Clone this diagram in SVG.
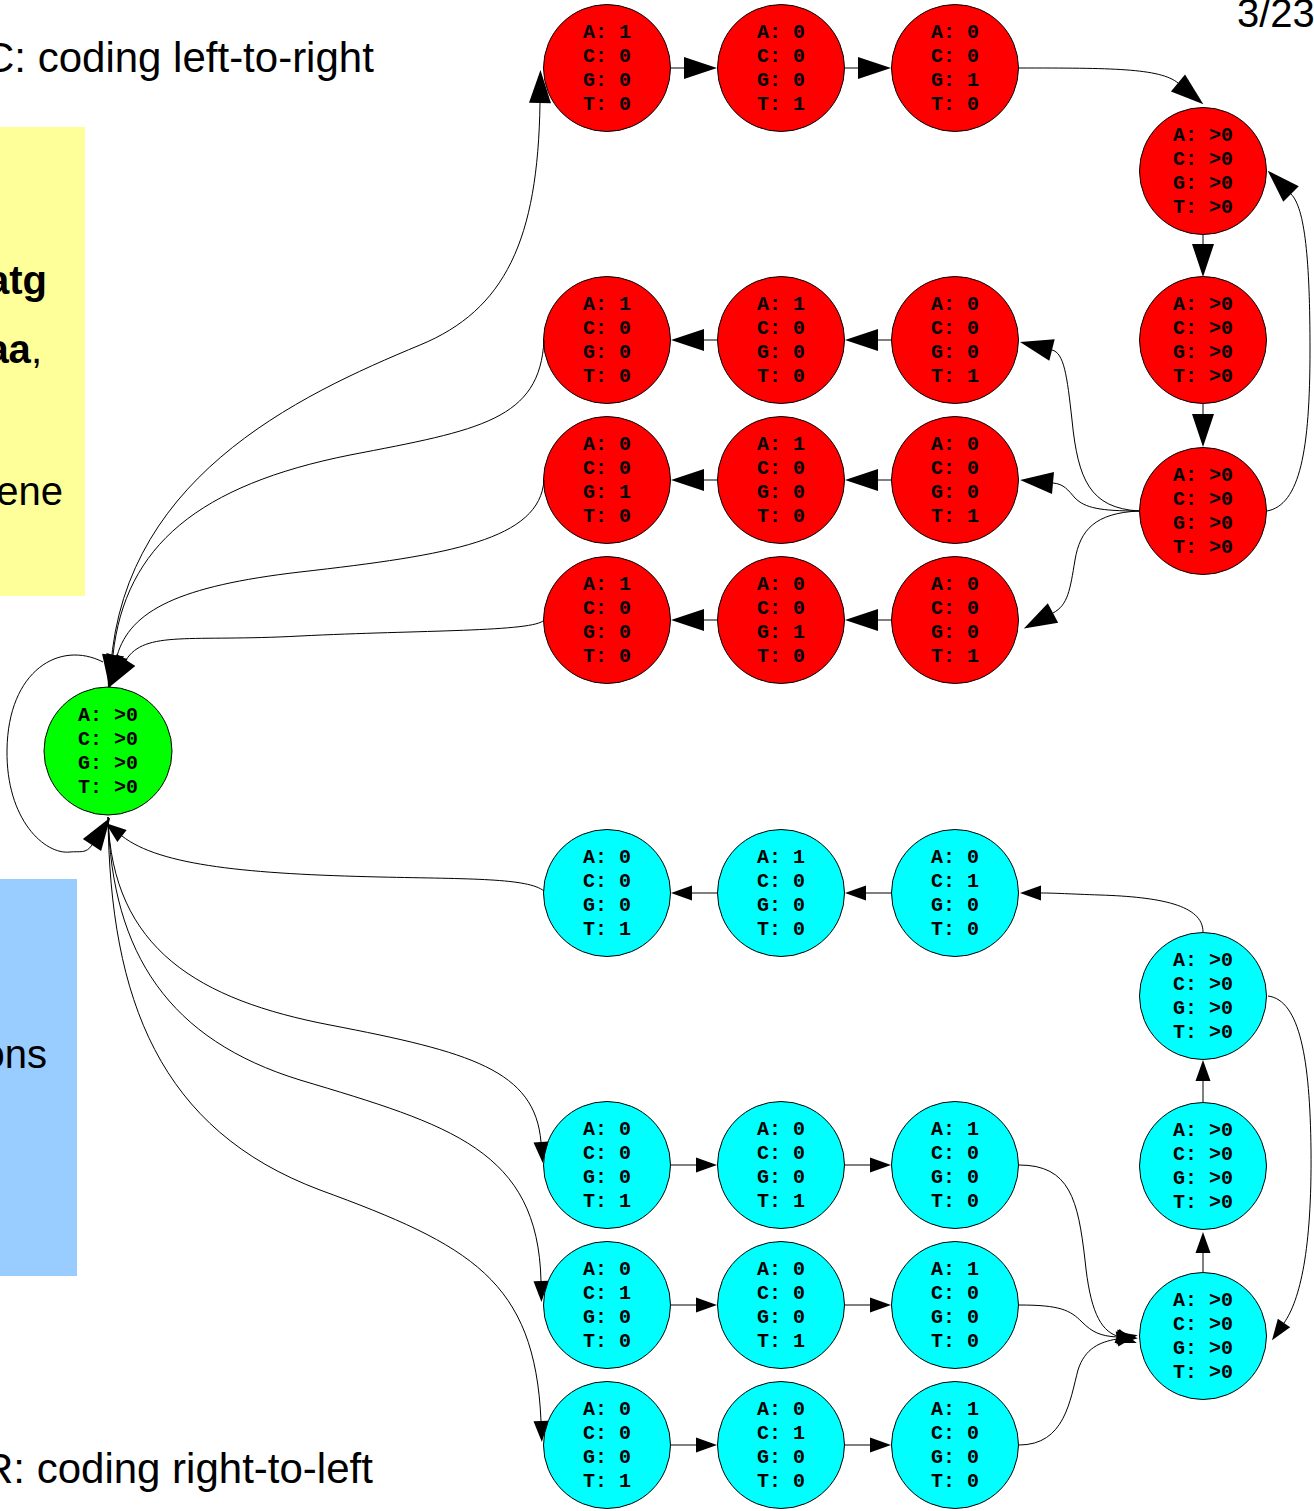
<svg xmlns="http://www.w3.org/2000/svg" width="1314" height="1511" viewBox="0 0 1314 1511">
  <style>
    .slide { font-family: "Liberation Sans", Arial, sans-serif; font-size: 40px; fill: #000; }
    .head { font-size: 42px; }
    .b { font-weight: bold; }
    .node circle { stroke: #000; stroke-width: 1; }
    .fwd circle { fill: #ff0000; }
    .rev circle { fill: #00ffff; }
    .igr circle { fill: #00ff00; }
    .lbl { font-family: "Liberation Mono", "Courier New", monospace; font-weight: bold; font-size: 20px; text-anchor: middle; fill: #000; }
    .edge path { fill: none; stroke: #000; stroke-width: 1; }
    .edge .big { marker-end: url(#ahBig); }
    .edge .small { marker-end: url(#ahSmall); }
  </style>
  <defs>
    <marker id="ahBig" markerUnits="userSpaceOnUse" viewBox="0 -11 33 22" refX="0" refY="0" markerWidth="33" markerHeight="22" orient="auto" overflow="visible">
      <path d="M0,-11 L33,0 L0,11 z" fill="#000"/>
    </marker>
    <marker id="ahSmall" markerUnits="userSpaceOnUse" viewBox="0 -7.5 21 15" refX="0" refY="0" markerWidth="21" markerHeight="15" orient="auto" overflow="visible">
      <path d="M0,-7.5 L21,0 L0,7.5 z" fill="#000"/>
    </marker>
  </defs>

  <rect width="1314" height="1511" fill="#fff"/>

  <!-- slide background: boxes and captions -->
  <g id="slide">
    <rect x="0" y="127" width="85" height="469" fill="#ffff99"/>
    <rect x="0" y="879" width="77" height="397" fill="#99ccff"/>
    <text class="slide head" x="-16" y="72">C: coding left-to-right</text>
    <text class="slide head" x="-17" y="1483">R: coding right-to-left</text>
    <text class="slide" x="1237" y="27">3/23</text>
    <text class="slide b" x="47" y="294" text-anchor="end">atg</text>
    <text class="slide" x="42" y="363" text-anchor="end"><tspan class="b">aa</tspan>,</text>
    <text class="slide" x="63" y="505" text-anchor="end">ene</text>
    <text class="slide" x="47" y="1068" text-anchor="end">ons</text>
  </g>

  <!-- nodes -->
  <g id="nodes">
    <g id="igr" class="node igr"><circle cx="108" cy="751" r="64"/>
      <text class="lbl" x="108" y="720.5"><tspan x="108">A: &gt;0</tspan><tspan x="108" dy="24.3">C: &gt;0</tspan><tspan x="108" dy="24.3">G: &gt;0</tspan><tspan x="108" dy="24.3">T: &gt;0</tspan></text></g>

    <!-- forward strand -->
    <g id="f_start1" class="node fwd"><circle cx="607" cy="68" r="63.5"/>
      <text class="lbl" x="607" y="37.5"><tspan x="607">A: 1</tspan><tspan x="607" dy="24.3">C: 0</tspan><tspan x="607" dy="24.3">G: 0</tspan><tspan x="607" dy="24.3">T: 0</tspan></text></g>
    <g id="f_start2" class="node fwd"><circle cx="781" cy="68" r="63.5"/>
      <text class="lbl" x="781" y="37.5"><tspan x="781">A: 0</tspan><tspan x="781" dy="24.3">C: 0</tspan><tspan x="781" dy="24.3">G: 0</tspan><tspan x="781" dy="24.3">T: 1</tspan></text></g>
    <g id="f_start3" class="node fwd"><circle cx="955" cy="68" r="63.5"/>
      <text class="lbl" x="955" y="37.5"><tspan x="955">A: 0</tspan><tspan x="955" dy="24.3">C: 0</tspan><tspan x="955" dy="24.3">G: 1</tspan><tspan x="955" dy="24.3">T: 0</tspan></text></g>
    <g id="f_cod1" class="node fwd"><circle cx="1203" cy="171" r="63.5"/>
      <text class="lbl" x="1203" y="140.5"><tspan x="1203">A: &gt;0</tspan><tspan x="1203" dy="24.3">C: &gt;0</tspan><tspan x="1203" dy="24.3">G: &gt;0</tspan><tspan x="1203" dy="24.3">T: &gt;0</tspan></text></g>
    <g id="f_cod2" class="node fwd"><circle cx="1203" cy="340" r="63.5"/>
      <text class="lbl" x="1203" y="309.5"><tspan x="1203">A: &gt;0</tspan><tspan x="1203" dy="24.3">C: &gt;0</tspan><tspan x="1203" dy="24.3">G: &gt;0</tspan><tspan x="1203" dy="24.3">T: &gt;0</tspan></text></g>
    <g id="f_cod3" class="node fwd"><circle cx="1203" cy="511" r="63.5"/>
      <text class="lbl" x="1203" y="480.5"><tspan x="1203">A: &gt;0</tspan><tspan x="1203" dy="24.3">C: &gt;0</tspan><tspan x="1203" dy="24.3">G: &gt;0</tspan><tspan x="1203" dy="24.3">T: &gt;0</tspan></text></g>

    <g id="f_taa1" class="node fwd"><circle cx="955" cy="340" r="63.5"/>
      <text class="lbl" x="955" y="309.5"><tspan x="955">A: 0</tspan><tspan x="955" dy="24.3">C: 0</tspan><tspan x="955" dy="24.3">G: 0</tspan><tspan x="955" dy="24.3">T: 1</tspan></text></g>
    <g id="f_taa2" class="node fwd"><circle cx="781" cy="340" r="63.5"/>
      <text class="lbl" x="781" y="309.5"><tspan x="781">A: 1</tspan><tspan x="781" dy="24.3">C: 0</tspan><tspan x="781" dy="24.3">G: 0</tspan><tspan x="781" dy="24.3">T: 0</tspan></text></g>
    <g id="f_taa3" class="node fwd"><circle cx="607" cy="340" r="63.5"/>
      <text class="lbl" x="607" y="309.5"><tspan x="607">A: 1</tspan><tspan x="607" dy="24.3">C: 0</tspan><tspan x="607" dy="24.3">G: 0</tspan><tspan x="607" dy="24.3">T: 0</tspan></text></g>

    <g id="f_tag1" class="node fwd"><circle cx="955" cy="480" r="63.5"/>
      <text class="lbl" x="955" y="449.5"><tspan x="955">A: 0</tspan><tspan x="955" dy="24.3">C: 0</tspan><tspan x="955" dy="24.3">G: 0</tspan><tspan x="955" dy="24.3">T: 1</tspan></text></g>
    <g id="f_tag2" class="node fwd"><circle cx="781" cy="480" r="63.5"/>
      <text class="lbl" x="781" y="449.5"><tspan x="781">A: 1</tspan><tspan x="781" dy="24.3">C: 0</tspan><tspan x="781" dy="24.3">G: 0</tspan><tspan x="781" dy="24.3">T: 0</tspan></text></g>
    <g id="f_tag3" class="node fwd"><circle cx="607" cy="480" r="63.5"/>
      <text class="lbl" x="607" y="449.5"><tspan x="607">A: 0</tspan><tspan x="607" dy="24.3">C: 0</tspan><tspan x="607" dy="24.3">G: 1</tspan><tspan x="607" dy="24.3">T: 0</tspan></text></g>

    <g id="f_tga1" class="node fwd"><circle cx="955" cy="620" r="63.5"/>
      <text class="lbl" x="955" y="589.5"><tspan x="955">A: 0</tspan><tspan x="955" dy="24.3">C: 0</tspan><tspan x="955" dy="24.3">G: 0</tspan><tspan x="955" dy="24.3">T: 1</tspan></text></g>
    <g id="f_tga2" class="node fwd"><circle cx="781" cy="620" r="63.5"/>
      <text class="lbl" x="781" y="589.5"><tspan x="781">A: 0</tspan><tspan x="781" dy="24.3">C: 0</tspan><tspan x="781" dy="24.3">G: 1</tspan><tspan x="781" dy="24.3">T: 0</tspan></text></g>
    <g id="f_tga3" class="node fwd"><circle cx="607" cy="620" r="63.5"/>
      <text class="lbl" x="607" y="589.5"><tspan x="607">A: 1</tspan><tspan x="607" dy="24.3">C: 0</tspan><tspan x="607" dy="24.3">G: 0</tspan><tspan x="607" dy="24.3">T: 0</tspan></text></g>

    <!-- reverse strand -->
    <g id="r_start3" class="node rev"><circle cx="607" cy="893" r="63.5"/>
      <text class="lbl" x="607" y="862.5"><tspan x="607">A: 0</tspan><tspan x="607" dy="24.3">C: 0</tspan><tspan x="607" dy="24.3">G: 0</tspan><tspan x="607" dy="24.3">T: 1</tspan></text></g>
    <g id="r_start2" class="node rev"><circle cx="781" cy="893" r="63.5"/>
      <text class="lbl" x="781" y="862.5"><tspan x="781">A: 1</tspan><tspan x="781" dy="24.3">C: 0</tspan><tspan x="781" dy="24.3">G: 0</tspan><tspan x="781" dy="24.3">T: 0</tspan></text></g>
    <g id="r_start1" class="node rev"><circle cx="955" cy="893" r="63.5"/>
      <text class="lbl" x="955" y="862.5"><tspan x="955">A: 0</tspan><tspan x="955" dy="24.3">C: 1</tspan><tspan x="955" dy="24.3">G: 0</tspan><tspan x="955" dy="24.3">T: 0</tspan></text></g>
    <g id="r_cod3" class="node rev"><circle cx="1203" cy="996" r="63.5"/>
      <text class="lbl" x="1203" y="965.5"><tspan x="1203">A: &gt;0</tspan><tspan x="1203" dy="24.3">C: &gt;0</tspan><tspan x="1203" dy="24.3">G: &gt;0</tspan><tspan x="1203" dy="24.3">T: &gt;0</tspan></text></g>
    <g id="r_cod2" class="node rev"><circle cx="1203" cy="1166" r="63.5"/>
      <text class="lbl" x="1203" y="1135.5"><tspan x="1203">A: &gt;0</tspan><tspan x="1203" dy="24.3">C: &gt;0</tspan><tspan x="1203" dy="24.3">G: &gt;0</tspan><tspan x="1203" dy="24.3">T: &gt;0</tspan></text></g>
    <g id="r_cod1" class="node rev"><circle cx="1203" cy="1336" r="63.5"/>
      <text class="lbl" x="1203" y="1305.5"><tspan x="1203">A: &gt;0</tspan><tspan x="1203" dy="24.3">C: &gt;0</tspan><tspan x="1203" dy="24.3">G: &gt;0</tspan><tspan x="1203" dy="24.3">T: &gt;0</tspan></text></g>

    <g id="r_tta1" class="node rev"><circle cx="607" cy="1165" r="63.5"/>
      <text class="lbl" x="607" y="1134.5"><tspan x="607">A: 0</tspan><tspan x="607" dy="24.3">C: 0</tspan><tspan x="607" dy="24.3">G: 0</tspan><tspan x="607" dy="24.3">T: 1</tspan></text></g>
    <g id="r_tta2" class="node rev"><circle cx="781" cy="1165" r="63.5"/>
      <text class="lbl" x="781" y="1134.5"><tspan x="781">A: 0</tspan><tspan x="781" dy="24.3">C: 0</tspan><tspan x="781" dy="24.3">G: 0</tspan><tspan x="781" dy="24.3">T: 1</tspan></text></g>
    <g id="r_tta3" class="node rev"><circle cx="955" cy="1165" r="63.5"/>
      <text class="lbl" x="955" y="1134.5"><tspan x="955">A: 1</tspan><tspan x="955" dy="24.3">C: 0</tspan><tspan x="955" dy="24.3">G: 0</tspan><tspan x="955" dy="24.3">T: 0</tspan></text></g>

    <g id="r_cta1" class="node rev"><circle cx="607" cy="1305" r="63.5"/>
      <text class="lbl" x="607" y="1274.5"><tspan x="607">A: 0</tspan><tspan x="607" dy="24.3">C: 1</tspan><tspan x="607" dy="24.3">G: 0</tspan><tspan x="607" dy="24.3">T: 0</tspan></text></g>
    <g id="r_cta2" class="node rev"><circle cx="781" cy="1305" r="63.5"/>
      <text class="lbl" x="781" y="1274.5"><tspan x="781">A: 0</tspan><tspan x="781" dy="24.3">C: 0</tspan><tspan x="781" dy="24.3">G: 0</tspan><tspan x="781" dy="24.3">T: 1</tspan></text></g>
    <g id="r_cta3" class="node rev"><circle cx="955" cy="1305" r="63.5"/>
      <text class="lbl" x="955" y="1274.5"><tspan x="955">A: 1</tspan><tspan x="955" dy="24.3">C: 0</tspan><tspan x="955" dy="24.3">G: 0</tspan><tspan x="955" dy="24.3">T: 0</tspan></text></g>

    <g id="r_tca1" class="node rev"><circle cx="607" cy="1445" r="63.5"/>
      <text class="lbl" x="607" y="1414.5"><tspan x="607">A: 0</tspan><tspan x="607" dy="24.3">C: 0</tspan><tspan x="607" dy="24.3">G: 0</tspan><tspan x="607" dy="24.3">T: 1</tspan></text></g>
    <g id="r_tca2" class="node rev"><circle cx="781" cy="1445" r="63.5"/>
      <text class="lbl" x="781" y="1414.5"><tspan x="781">A: 0</tspan><tspan x="781" dy="24.3">C: 1</tspan><tspan x="781" dy="24.3">G: 0</tspan><tspan x="781" dy="24.3">T: 0</tspan></text></g>
    <g id="r_tca3" class="node rev"><circle cx="955" cy="1445" r="63.5"/>
      <text class="lbl" x="955" y="1414.5"><tspan x="955">A: 1</tspan><tspan x="955" dy="24.3">C: 0</tspan><tspan x="955" dy="24.3">G: 0</tspan><tspan x="955" dy="24.3">T: 0</tspan></text></g>
  </g>

  <!-- connectors -->
  <g id="edges" class="edge">
    <!-- forward strand -->
    <path class="big" d="M110,687 C112,480 300,395 420,345 C505,310 538,240 540,103"/>
    <path class="big" d="M671,68 L684,68"/>
    <path class="big" d="M845,68 L858,68"/>
    <path class="big" d="M1019,68 C1110,68 1160,68 1178,83"/>
    <path class="big" d="M1203,235 L1203,244"/>
    <path class="big" d="M1203,404 L1203,414"/>
    <path class="big" d="M1267,511 C1300,505 1310,450 1310,350 C1310,260 1305,208 1291,194"/>
    <path class="big" d="M1139,511 C1090,508 1078,480 1072,420 C1067,375 1064,353 1052,350"/>
    <path class="big" d="M1139,511 C1100,511 1085,508 1075,498 C1068,490 1064,484 1053,483"/>
    <path class="big" d="M1139,511 C1095,513 1080,530 1075,560 C1070,590 1068,605 1053,613"/>
    <path class="big" d="M891,340 L878,340"/>
    <path class="big" d="M717,340 L704,340"/>
    <path class="big" d="M891,480 L878,480"/>
    <path class="big" d="M717,480 L704,480"/>
    <path class="big" d="M891,620 L878,620"/>
    <path class="big" d="M717,620 L704,620"/>
    <path class="big" d="M544,340 C540,420 480,430 350,455 C200,485 125,545 113,655"/>
    <path class="big" d="M544,480 C540,540 450,555 300,572 C180,586 130,610 117,656"/>
    <path class="big" d="M544,620 C535,632 420,630 300,636 C190,642 145,630 126,660"/>
    <path class="big" d="M103,662 C60,640 8,670 7,750 C6,820 45,855 70,852 C80,851 86,854 92,845"/>
    <!-- reverse strand -->
    <path class="small" d="M544,891 C528,878 470,879 380,877 C250,874 160,866 122,836"/>
    <path class="small" d="M717,893 L692,893"/>
    <path class="small" d="M891,893 L866,893"/>
    <path class="small" d="M1203,932 C1203,905 1160,897 1100,895 C1070,894 1055,893 1041,893"/>
    <path class="small" d="M1203,1102 L1203,1081"/>
    <path class="small" d="M1203,1272 L1203,1253"/>
    <path class="small" d="M1268,996 C1300,1000 1310,1060 1311,1150 C1312,1250 1300,1300 1284,1323"/>
    <path class="small" d="M108,817 C112,950 200,1000 330,1025 C470,1052 535,1070 541,1142"/>
    <path class="small" d="M108,817 C112,955 170,1040 300,1080 C450,1125 538,1150 541,1281"/>
    <path class="small" d="M108,817 C110,1000 160,1130 320,1190 C470,1245 535,1280 541,1421"/>
    <path class="small" d="M671,1165 L696,1165"/>
    <path class="small" d="M845,1165 L870,1165"/>
    <path class="small" d="M671,1305 L696,1305"/>
    <path class="small" d="M845,1305 L870,1305"/>
    <path class="small" d="M671,1445 L696,1445"/>
    <path class="small" d="M845,1445 L870,1445"/>
    <path class="small" d="M1019,1165 C1070,1165 1078,1200 1085,1260 C1090,1310 1100,1330 1117,1336"/>
    <path class="small" d="M1019,1305 C1060,1305 1070,1310 1082,1322 C1092,1332 1100,1336 1117,1337"/>
    <path class="small" d="M1019,1445 C1065,1445 1070,1400 1078,1370 C1085,1348 1100,1342 1117,1339"/>
  </g>
</svg>
